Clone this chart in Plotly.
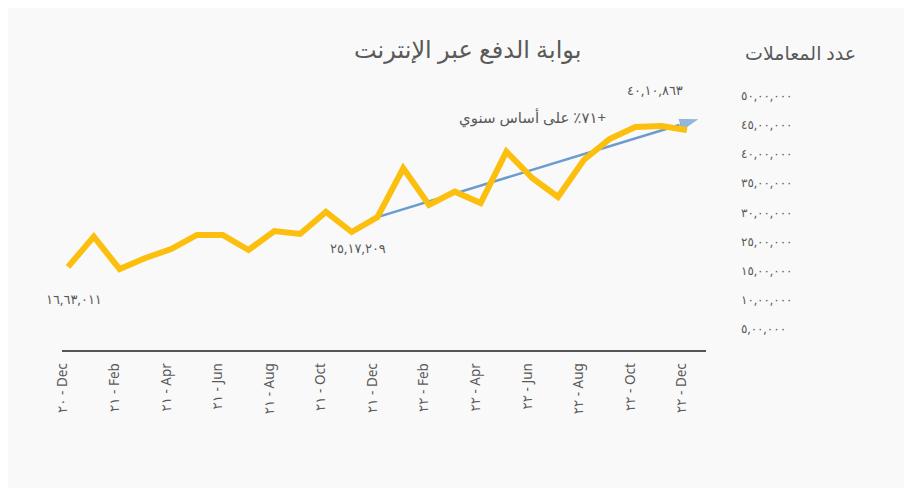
import plotly.graph_objects as go

# monthly online payment gateway transactions, Dec 2020 .. Dec 2022
months = ["Dec 20", "Jan 21", "Feb 21", "Mar 21", "Apr 21", "May 21", "Jun 21",
          "Jul 21", "Aug 21", "Sep 21", "Oct 21", "Nov 21", "Dec 21",
          "Jan 22", "Feb 22", "Mar 22", "Apr 22", "May 22", "Jun 22",
          "Jul 22", "Aug 22", "Sep 22", "Oct 22", "Nov 22", "Dec 22"]
transactions = [1663011, 2181000, 1626000, 1815000, 1969000, 2210000, 2210000,
                1952000, 2278000, 2227000, 2605000, 2261000, 2517209,
                3355000, 2725000, 2953000, 2759000, 3640000, 3188000,
                2862000, 3497000, 3858000, 4063000, 4081000, 4010863]

tick_labels = ["٢٠ - Dec", "٢١ - Feb", "٢١ - Apr", "٢١ - Jun", "٢١ - Aug", "٢١ - Oct", "٢١ - Dec",
               "٢٢ - Feb", "٢٢ - Apr", "٢٢ - Jun", "٢٢ - Aug", "٢٢ - Oct", "٢٢ - Dec"]
right_labels = ["٥,٠٠,٠٠٠", "١٠,٠٠,٠٠٠", "١٥,٠٠,٠٠٠", "٢٥,٠٠,٠٠٠", "٣٠,٠٠,٠٠٠",
                "٣٥,٠٠,٠٠٠", "٤٠,٠٠,٠٠٠", "٤٥,٠٠,٠٠٠", "٥٠,٠٠,٠٠٠"]
point_labels = {0: "١٦,٦٣,٠١١", 12: "٢٥,١٧,٢٠٩", 24: "٤٠,١٠,٨٦٣"}

title = "بوابة الدفع عبر الإنترنت"
right_title = "عدد المعاملات"
growth_text = "+٧١٪ على أساس سنوي"
trend_end = 4235000

FONT = "Noto Sans, DejaVu Sans, sans-serif"
GREY = "#595959"
BG = "#f9f9f9"
RTL = "\u202b{}\u202c"

x = list(range(len(months)))

fig = go.Figure()

# trend arrow (drawn first so the yellow line sits on top)
fig.add_trace(go.Scatter(
    x=[12, 24.5], y=[transactions[12], trend_end - 30000],
    mode="lines+markers",
    line=dict(color="#6b9bcf", width=2.5),
    marker=dict(symbol=["circle", "arrow"], size=[0, 22], angleref="previous",
                color="#6b9bcf"),
    cliponaxis=False, hoverinfo="skip", showlegend=False,
))

fig.add_trace(go.Scatter(
    x=x, y=transactions, mode="lines",
    line=dict(color="#fcbf0e", width=6),
    customdata=months, hovertemplate="%{customdata}: %{y:,}<extra></extra>",
    showlegend=False,
))

# dummy trace to carry the decorative right-hand scale
fig.add_trace(go.Scatter(x=[0], y=[0], yaxis="y2", mode="markers",
                         marker=dict(opacity=0), hoverinfo="skip", showlegend=False))

lab = dict(showarrow=False, xanchor="center", yanchor="middle",
           font=dict(size=13, color=GREY))
fig.add_annotation(x=0, y=transactions[0], text=point_labels[0],
                   yshift=-32, xshift=6, **lab)
fig.add_annotation(x=12, y=transactions[12], text=point_labels[12],
                   yshift=-31, xshift=-19, **lab)
fig.add_annotation(x=24, y=transactions[24], text=point_labels[24],
                   yshift=40, xshift=-32, **lab)
fig.add_annotation(x=18, y=trend_end, text=RTL.format(growth_text),
                   showarrow=False, xanchor="center", yanchor="middle",
                   font=dict(size=15, color=GREY))

fig.add_annotation(xref="paper", yref="paper", x=0.629, y=1.1185, text=RTL.format(title),
                   showarrow=False, xanchor="center", yanchor="middle",
                   font=dict(size=24, color=GREY))
fig.add_annotation(xref="paper", yref="paper", x=1.146, y=1.10, text=RTL.format(right_title),
                   showarrow=False, xanchor="center", yanchor="middle",
                   font=dict(size=19, color=GREY))

fig.update_layout(
    width=904, height=480,
    margin=dict(l=54, r=206, t=72, b=138),
    paper_bgcolor=BG, plot_bgcolor=BG,
    font=dict(family=FONT, color=GREY),
    xaxis=dict(range=[-0.233, 24.74], tickvals=x[::2], ticktext=tick_labels,
               tickangle=-90, showgrid=False, zeroline=False,
               showline=True, linecolor="#555555", linewidth=1.5,
               ticks="", tickfont=dict(size=13.5, color=GREY),
               ticklabelshift=-5, ticklabelstandoff=6),
    yaxis=dict(range=[236000, 4870000], visible=False),
    yaxis2=dict(overlaying="y", side="right", anchor="x", range=[-0.72, 8.54],
                tickvals=list(range(len(right_labels))), ticktext=right_labels,
                showgrid=False, zeroline=False, showline=False, ticks="",
                ticklabelstandoff=34, tickfont=dict(size=12, color=GREY)),
)

fig.write_html("out.html")
